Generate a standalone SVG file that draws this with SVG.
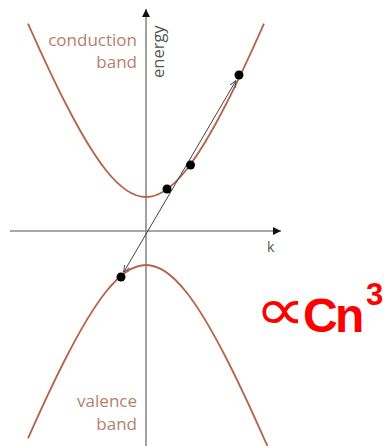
<svg xmlns="http://www.w3.org/2000/svg" width="392" height="446" viewBox="0 0 392 446">
<style>
.band{fill:none;stroke:#b5644a;stroke-width:1.8}
.axis{stroke:#8a8a8a;stroke-width:1.6;fill:none}
.lbl{font-family:"Open Sans","DejaVu Sans",sans-serif;font-size:17px;fill:#b57f6d}
.dot{fill:#000}
</style>
<defs>
<marker id="axhead" viewBox="0 0 10 10" refX="10" refY="5" markerWidth="5" markerHeight="5" orient="auto" markerUnits="strokeWidth">
<path d="M0,0 L10,5 L0,10 z" fill="#111"/>
</marker>
<marker id="arr" viewBox="0 0 10 10" refX="10" refY="5" markerWidth="7" markerHeight="7" orient="auto-start-reverse" markerUnits="strokeWidth">
<path d="M0,1 L10,5 L0,9" fill="none" stroke="#444" stroke-width="1.3"/>
</marker>
</defs>
<rect width="392" height="446" fill="#fff"/>
<g id="axes">
<line class="axis" x1="146" y1="446" x2="146" y2="9" marker-end="url(#axhead)"/>
<line class="axis" x1="10" y1="231" x2="281" y2="231" marker-end="url(#axhead)"/>
</g>
<g id="conduction-band">
<path class="band" d="M28,23.6 Q49.35,71.77 66,104.26 Q88.54,148.24 106,170.23 Q127.26,197 146,197 Q164.74,197 186,170.23 Q203.46,148.24 226,104.26 Q242.65,71.77 264,23.6"/>
<text class="lbl" x="137" y="46" text-anchor="end">conduction</text>
<text class="lbl" x="137" y="68" text-anchor="end">band</text>
</g>
<g id="valence-band">
<path class="band" d="M28,438.4 Q49.35,390.23 66,357.74 Q88.54,313.76 106,291.77 Q127.26,265 146,265 Q164.74,265 186,291.77 Q203.46,313.76 226,357.74 Q242.65,390.23 264,438.4 L267.5,446"/>
<text class="lbl" x="137" y="407" text-anchor="end">valence</text>
<text class="lbl" x="137" y="430" text-anchor="end">band</text>
</g>
<g id="labels">
<text transform="translate(164,78) rotate(-90)" font-family="Open Sans, DejaVu Sans, sans-serif" font-size="16.5" fill="#555">energy</text>
<text x="267" y="252" font-family="Open Sans, DejaVu Sans, sans-serif" font-size="14" fill="#555">k</text>
</g>
<g id="connectors">
<line x1="123.5" y1="272.5" x2="236" y2="80.5" stroke="#444" stroke-width="1" marker-start="url(#arr)" marker-end="url(#arr)"/>
</g>
<g id="points">
<circle class="dot" cx="121" cy="277" r="4.5"/>
<circle class="dot" cx="167" cy="189" r="4.5"/>
<circle class="dot" cx="190.5" cy="165" r="4.5"/>
<circle class="dot" cx="239" cy="75" r="4.5"/>
</g>
<g id="formula" fill="#ff0000">
<text transform="translate(255,330) scale(1.55,1.3)" font-family="DejaVu Sans, sans-serif" font-size="46">∝</text>
<text x="303" y="332" font-family="Liberation Sans, Arial, sans-serif" font-size="48" font-weight="bold">C<tspan x="335">n</tspan><tspan x="366" y="305" font-size="31">3</tspan></text>
</g>
</svg>
